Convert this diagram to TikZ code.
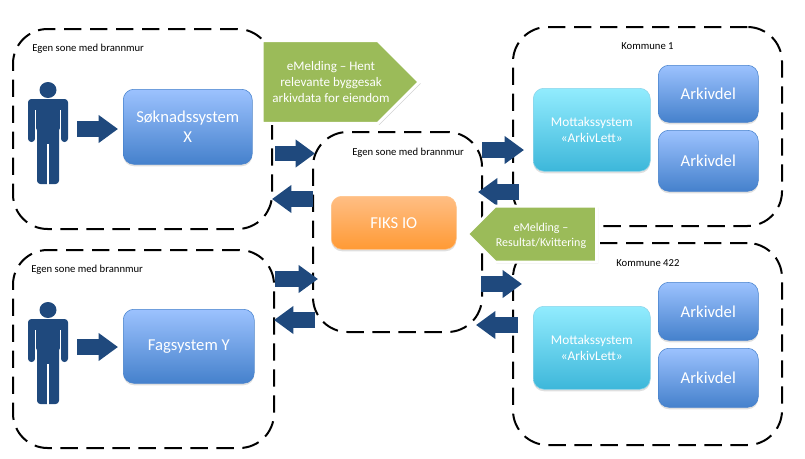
\documentclass[tikz,border=0pt]{standalone}
\usepackage{fontspec}
\setmainfont{Carlito}
\usetikzlibrary{arrows.meta, shadows, shapes.symbols}
\definecolor{flowblue}{HTML}{1F497D}
\definecolor{zonegreen}{HTML}{9BBB59}
\definecolor{bluetop}{HTML}{9CC2FE}
\definecolor{bluebottom}{HTML}{4581CC}
\definecolor{cyantop}{HTML}{92ECFE}
\definecolor{cyanbottom}{HTML}{3DB7DA}
\definecolor{orangetop}{HTML}{FFBE84}
\definecolor{orangebottom}{HTML}{FF9A35}
\tikzset{
zone/.style={draw=black, line width=1.5pt, dash pattern=on 13pt off 6.5pt, rounded corners=26pt, anchor=north west, inner sep=0pt, outer sep=0pt}, % the dashed fire wall zones
zonelabel/.style={font=\fontsize{8}{9}\selectfont, anchor=west, inner sep=0pt}, % small text on top of a zone
sysbox/.style={text=white, rounded corners=8pt, anchor=north west, inner sep=1pt, align=center, font=\fontsize{12.5}{15}\selectfont, drop shadow={opacity=.25, shadow xshift=0pt, shadow yshift=-1.5pt}}, % every system box
bluebox/.style={sysbox, draw=bluebottom, top color=bluetop, bottom color=bluebottom},
cyanbox/.style={sysbox, draw=cyanbottom!60, top color=cyantop, bottom color=cyanbottom, font=\fontsize{10}{11.5}\selectfont},
orangebox/.style={sysbox, draw=orangebottom!60, top color=orangetop, bottom color=orangebottom},
flow/.style={draw=flowblue, line width=11.5pt, -{Triangle[length=14.5pt, width=20pt]}}, % the fat arrows
callout/.style={signal, fill=zonegreen, draw=white, line width=2.25pt, signal pointer angle=90, inner sep=0pt, drop shadow={opacity=.35, shadow xshift=1pt, shadow yshift=-1.2pt}}, % the green messages
callouttext/.style={text=white, align=center, inner sep=0pt},
person/.pic={
    \fill[flowblue] (0,-39) ellipse (8.5 and 8);
    \fill[flowblue, rounded corners=2.5pt] (-20,-30) -- (20,-30) -- (20,13) -- (13,13) -- (13,-2) -- (11,-2) -- (11,55) -- (-11,55) -- (-11,-2) -- (-13,-2) -- (-13,13) -- (-20,13) -- cycle;
    \draw[white, line width=.5pt] (-12.5,-19) -- (-12.5,13) (12.5,-19) -- (12.5,13);
    \draw[white, line width=1pt] (0,15) -- (0,56);
},
}
\begin{document}
\begin{tikzpicture}[x=.75pt, y=-.75pt]
    \useasboundingbox (0,0) rectangle (805,458);

    \node[zone, minimum width=194.25pt, minimum height=150pt] (zone_x) at (13,29) {};
    \node[zone, minimum width=195.75pt, minimum height=148.5pt] (zone_y) at (13,250) {};
    \node[zone, minimum width=126.75pt, minimum height=150pt] (zone_fiks) at (313,132) {};
    \node[zone, minimum width=201.75pt, minimum height=149.25pt] (zone_k1) at (513,27) {};
    \node[zone, minimum width=201.75pt, minimum height=151.5pt] (zone_k422) at (513,243) {};

    \node[zonelabel] (label_x) at (32,49) {Egen sone med brannmur};
    \node[zonelabel] (label_y) at (31,270) {Egen sone med brannmur};
    \node[zonelabel] (label_fiks) at (352,153) {Egen sone med brannmur};
    \node[zonelabel] (label_k1) at (621,46) {Kommune 1};
    \node[zonelabel] (label_k422) at (616,263) {Kommune 422};

    \pic at (48,129) {person};
    \pic at (48,349) {person};

    \node[bluebox, minimum width=96.75pt, minimum height=56.25pt] (soknad) at (123,89) {Søknadssystem\\X};
    \node[bluebox, minimum width=98.25pt, minimum height=55.5pt] (fag) at (123,309) {Fagsystem Y};
    \node[orangebox, minimum width=93.75pt, minimum height=39.75pt] (fiks) at (331,196) {FIKS IO};

    \node[cyanbox, minimum width=87.75pt, minimum height=62.25pt] (mottak_k1) at (533,88) {Mottakssystem\\«ArkivLett»};
    \node[bluebox, minimum width=75pt, minimum height=42.75pt] (arkiv_k1a) at (658,65) {Arkivdel};
    \node[bluebox, minimum width=75pt, minimum height=45.75pt] (arkiv_k1b) at (658,130) {Arkivdel};

    \node[cyanbox, minimum width=87.75pt, minimum height=62.25pt] (mottak_k422) at (533,306) {Mottakssystem\\«ArkivLett»};
    \node[bluebox, minimum width=75pt, minimum height=43.5pt] (arkiv_k422a) at (658,282) {Arkivdel};
    \node[bluebox, minimum width=75pt, minimum height=44.25pt] (arkiv_k422b) at (658,348) {Arkivdel};

    \coordinate (person_x) at (77,129);
    \coordinate (soknad_in) at (118,129);
    \coordinate (person_y) at (77,347);
    \coordinate (fag_in) at (118,347);
    \coordinate (x_out) at (275,153.5);
    \coordinate (fiks_x_in) at (315,153.5);
    \coordinate (fiks_x_out) at (313,199);
    \coordinate (x_in) at (272,199);
    \coordinate (y_out) at (275,279);
    \coordinate (fiks_y_in) at (318,279);
    \coordinate (fiks_y_out) at (315,320);
    \coordinate (y_in) at (274,320);
    \coordinate (fiks_k1_out) at (482,150);
    \coordinate (k1_in) at (524,150);
    \coordinate (k1_out) at (519,192);
    \coordinate (fiks_k1_in) at (478,192);
    \coordinate (fiks_k422_out) at (481,284);
    \coordinate (k422_in) at (522,284);
    \coordinate (k422_out) at (518,325);
    \coordinate (fiks_k422_in) at (476,325);

    \draw[flow] (person_x) -- (soknad_in);
    \draw[flow] (person_y) -- (fag_in);
    \draw[flow] (x_out) -- (fiks_x_in);
    \draw[flow] (fiks_x_out) -- (x_in);
    \draw[flow] (y_out) -- (fiks_y_in);
    \draw[flow] (fiks_y_out) -- (y_in);
    \draw[flow] (fiks_k1_out) -- (k1_in);
    \draw[flow] (k1_out) -- (fiks_k1_in);
    \draw[flow] (fiks_k422_out) -- (k422_in);
    \draw[flow] (k422_out) -- (fiks_k422_in);

    \node[callout, signal to=east, minimum width=118pt, minimum height=62pt] (hent) at (320,82) {};
    \node[callouttext, font=\fontsize{9.8}{12}\selectfont] (hent_text) at (331,82) {eMelding – Hent\\relevante byggesak\\arkivdata for eiendom};
    \node[callout, signal to=west, minimum width=97pt, minimum height=42pt] (resultat) at (546,234) {};
    \node[callouttext, font=\fontsize{9}{11.25}\selectfont] (resultat_text) at (541,235.5) {eMelding –\\Resultat/Kvittering};
\end{tikzpicture}
\end{document}
